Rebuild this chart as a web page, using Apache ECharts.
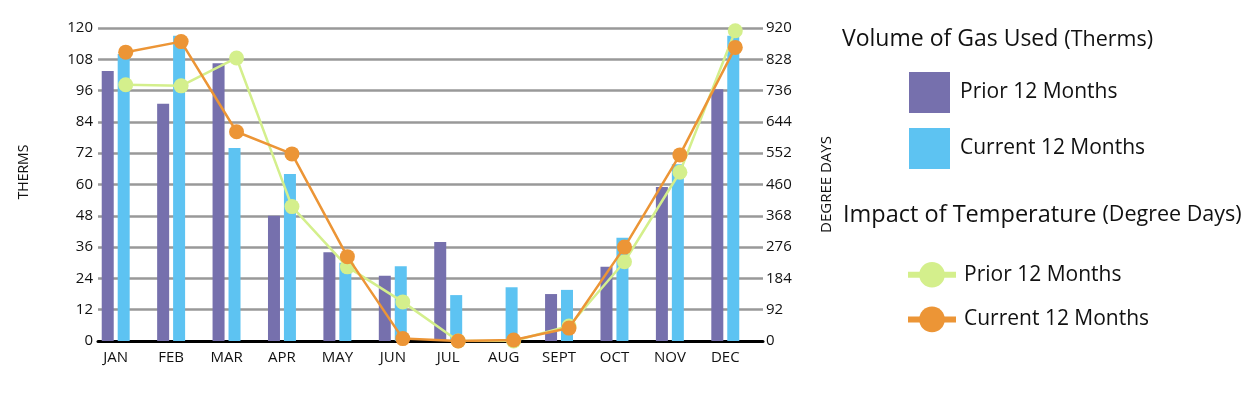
<!DOCTYPE html>
<html>
<head>
<meta charset="utf-8">
<script src="https://cdn.jsdelivr.net/npm/echarts@6/dist/echarts.min.js"></script>
<style>
html,body{margin:0;padding:0;background:#fff;}
#c{width:1258px;height:393px;}
</style>
</head>
<body>
<div id="c"></div>
<script>
const months = ['JAN','FEB','MAR','APR','MAY','JUN','JUL','AUG','SEPT','OCT','NOV','DEC'];
const thermsPrior   = [103.5, 91, 106.5, 48, 34, 25, 38, 0, 18, 28.5, 59, 96.5];
const thermsCurrent = [110, 117, 74, 64, 30, 28.7, 17.6, 20.6, 19.6, 39.6, 67.8, 117];
const ddPrior   = [753, 750, 832, 395, 218, 115, 0, 0, 44, 233, 496, 912];
const ddCurrent = [849, 880, 615, 550, 248, 7, 0, 3, 38, 276, 547, 863];
const thermTicks = {min: 0, max: 120, interval: 12};
const ddTicks = {min: 0, max: 920, interval: 92};

const FONT = 'Open Sans';
const purple = '#7670ad', blue = '#5dc3f2', lime = '#d4ef8c', orange = '#ec9536';

const chart = echarts.init(document.getElementById('c'));
chart.setOption({
  animation: false,
  textStyle: {fontFamily: FONT, color: '#111'},
  grid: [
    {left: 98, right: 495, top: 28, bottom: 52},
    {left: 88, right: 505, top: 28, bottom: 52}
  ],
  xAxis: [
    {type: 'category', gridIndex: 0, data: months,
     axisLine: {lineStyle: {color: '#000', width: 3}}, axisTick: {show: false}, axisLabel: {show: false}},
    {type: 'category', gridIndex: 1, data: months,
     axisLine: {show: false}, axisTick: {show: false},
     axisLabel: {fontSize: 15, color: '#111', margin: 9, fontFamily: FONT, interval: 0}}
  ],
  yAxis: [
    {type: 'value', gridIndex: 0, position: 'left', min: thermTicks.min, max: thermTicks.max, interval: thermTicks.interval,
     name: 'THERMS', nameLocation: 'middle', nameGap: 67, nameRotate: 90,
     nameTextStyle: {fontSize: 14, color: '#111', fontFamily: FONT, padding: [0, 0, 0, 25]},
     axisLine: {show: false}, axisTick: {show: false},
     axisLabel: {fontSize: 15, color: '#111', margin: 5},
     splitLine: {lineStyle: {color: '#999', width: 2.5}}},
    {type: 'value', gridIndex: 0, position: 'right', min: ddTicks.min, max: ddTicks.max, interval: ddTicks.interval,
     name: 'DEGREE DAYS', nameLocation: 'middle', nameGap: 56, nameRotate: 90,
     nameTextStyle: {fontSize: 15, color: '#111', fontFamily: FONT},
     axisLine: {show: false}, axisTick: {show: false},
     axisLabel: {fontSize: 15, color: '#111', margin: 3},
     splitLine: {show: false}},
    {type: 'value', gridIndex: 1, min: thermTicks.min, max: thermTicks.max, interval: thermTicks.interval, show: false}
  ],
  legend: [
    {data: [{name: 'Therms Prior', icon: 'rect'}, {name: 'Therms Current', icon: 'rect'}],
     orient: 'vertical', left: 909, top: 72, padding: 0,
     itemWidth: 41, itemHeight: 41, itemGap: 15,
     formatter: function(n){ return n === 'Therms Prior' ? 'Prior 12 Months' : 'Current 12 Months'; },
     textStyle: {fontSize: 21, color: '#111', fontFamily: FONT, padding: [3, 0, 0, 5]}},
    {data: ['DD Prior', 'DD Current'], orient: 'vertical', left: 905, top: 262, padding: 0,
     itemWidth: 48, itemHeight: 32, itemGap: 19,
     lineStyle: {width: 6},
     formatter: function(n){ return n === 'DD Prior' ? 'Prior 12 Months' : 'Current 12 Months'; },
     textStyle: {fontSize: 21, color: '#111', fontFamily: FONT, padding: [5, 0, 0, 3]}}
  ],
  graphic: [
    {type: 'text', left: 842, top: 28, style: {
      text: '{a|Volume of Gas Used }{b|(Therms)}',
      rich: {a: {fontSize: 23, fontFamily: FONT, fill: '#111'}, b: {fontSize: 21.5, fontFamily: FONT, fill: '#111'}}}},
    {type: 'text', left: 843, top: 203, style: {
      text: '{a|Impact of Temperature }{b|(Degree Days)}',
      rich: {a: {fontSize: 23.5, fontFamily: FONT, fill: '#111'}, b: {fontSize: 21.5, fontFamily: FONT, fill: '#111'}}}}
  ],
  series: [
    {name: 'Therms Prior', type: 'bar', xAxisIndex: 1, yAxisIndex: 2, data: thermsPrior,
     barWidth: 12, barGap: '33%', itemStyle: {color: purple}, z: 2},
    {name: 'Therms Current', type: 'bar', xAxisIndex: 1, yAxisIndex: 2, data: thermsCurrent,
     barWidth: 12, barGap: '33%', itemStyle: {color: blue}, z: 2},
    {name: 'DD Prior', type: 'line', xAxisIndex: 0, yAxisIndex: 1, data: ddPrior,
     symbol: 'circle', symbolSize: 15, lineStyle: {color: lime, width: 2.5}, itemStyle: {color: lime}, z: 5},
    {name: 'DD Current', type: 'line', xAxisIndex: 0, yAxisIndex: 1, data: ddCurrent,
     symbol: 'circle', symbolSize: 15, lineStyle: {color: orange, width: 2.5}, itemStyle: {color: orange}, z: 6}
  ]
});
</script>
</body>
</html>
